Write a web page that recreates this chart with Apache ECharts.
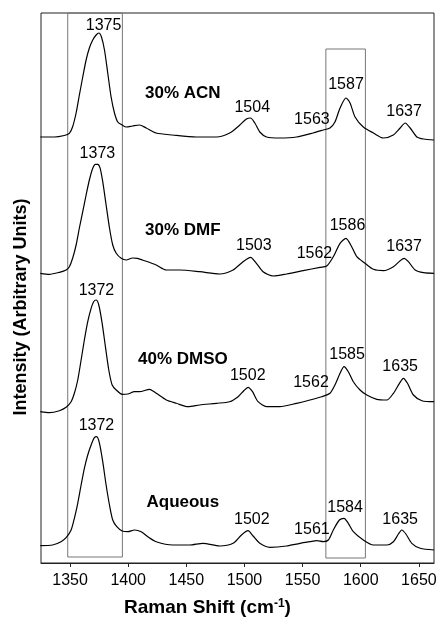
<!DOCTYPE html>
<html>
<head>
<meta charset="utf-8">
<script src="https://cdn.jsdelivr.net/npm/echarts@6/dist/echarts.min.js"></script>
<style>
  html, body { margin: 0; padding: 0; background: #fff; }
  #chart { width: 440px; height: 621px; }
</style>
</head>
<body>
<div id="chart"></div>
<script>
// x tick labels (Raman shift, cm-1)
var xTicks = [1350, 1400, 1450, 1500, 1550, 1600, 1650]

// spectra: [raman shift, intensity (arbitrary, stacked)]
var acn = [[1324.4, 426], [1336.5, 426], [1345, 427.5], [1349.4, 429.7], [1352.2, 436.3], [1355.2, 450], [1358, 468], [1360.9, 486], [1363.8, 503], [1366.6, 515], [1369.5, 523], [1372.4, 528], [1374.7, 530], [1377, 526], [1379.6, 513], [1382.4, 490], [1385.3, 466], [1388.2, 450], [1391, 441], [1394.8, 438], [1398.3, 436], [1403.7, 437], [1409.7, 438], [1415.5, 435], [1424, 430], [1438, 428], [1458.6, 426], [1475.9, 426], [1487.3, 430], [1496, 438], [1501.7, 444], [1505.2, 445], [1508.9, 440], [1513.2, 431], [1519, 426], [1530.4, 425], [1544.8, 426], [1559, 430], [1567.8, 433], [1573.5, 435], [1577.8, 441], [1582.2, 455], [1587.3, 465], [1590.8, 460], [1595.1, 446], [1602.2, 436], [1610.9, 430], [1619.5, 425], [1628, 428], [1633.9, 435], [1638.2, 440], [1642.5, 435], [1648.3, 426], [1654, 424], [1663, 423]]

var dmf = [[1324.4, 289.7], [1332.2, 288.7], [1340.8, 290.7], [1346.6, 293], [1349.4, 296.3], [1352.2, 304.7], [1355.2, 318], [1358, 335], [1360.9, 351.3], [1363.8, 368], [1366.6, 383], [1369.5, 394.7], [1371.8, 398.7], [1373.8, 398.7], [1375.9, 394.7], [1378.1, 381.3], [1381, 358], [1383.9, 335], [1386.7, 318], [1389.7, 309.7], [1394, 304.7], [1398.3, 303], [1403.7, 305], [1408, 304.7], [1412.3, 303], [1424.1, 298], [1432.8, 293], [1444.2, 293], [1461.5, 291.3], [1478.7, 289], [1490.2, 293], [1498.8, 301.3], [1505.2, 305.7], [1510.3, 299.7], [1516, 291.3], [1524.7, 287], [1536.2, 289], [1550.5, 292.3], [1564.9, 295.7], [1570.7, 297], [1576.4, 306.3], [1582.2, 319.7], [1587.3, 324.7], [1592.2, 316.3], [1596.6, 306.3], [1603.7, 299.7], [1610.9, 293.7], [1619.5, 292.3], [1628.1, 296.3], [1633.9, 302.3], [1637.3, 304.7], [1641, 301.3], [1646.8, 293], [1654, 290.3], [1663, 289.7]]

var dmso = [[1324.4, 151.3], [1332.2, 150.3], [1340.8, 152.3], [1346.6, 155.7], [1350.9, 161.3], [1353.7, 169.7], [1356.6, 183], [1359.5, 203], [1362.3, 223], [1365.2, 241.3], [1368.1, 254.7], [1370.3, 261.3], [1372.4, 263], [1374.7, 258], [1377.6, 239.7], [1380.4, 216.3], [1383.3, 193], [1386.2, 178], [1389.7, 173], [1394.8, 168.7], [1399.7, 169], [1405.4, 171.3], [1409.7, 171.3], [1418.4, 173.7], [1424.1, 169.7], [1432.8, 163], [1441.4, 159.7], [1451.4, 156.3], [1461.5, 158], [1475.9, 159.7], [1487.3, 161.3], [1494.5, 166.3], [1499.4, 172.3], [1503.1, 175.7], [1506.9, 171.3], [1511.7, 161.3], [1519, 156.3], [1530.4, 156.3], [1544.8, 159.7], [1556.3, 163], [1566.4, 166.3], [1573.5, 169.7], [1577.8, 178], [1582.2, 189.7], [1585.6, 196.3], [1589.3, 191.3], [1593.6, 181.3], [1599.4, 173], [1605.2, 168], [1613.8, 163.7], [1622.4, 163], [1628.1, 169.7], [1633.3, 179.7], [1636.7, 184.7], [1640.2, 179.7], [1645.3, 168], [1652.6, 162.3], [1663, 161.3]]

var aqueous = [[1324.4, 17.3], [1335, 18], [1342.2, 21.3], [1346.6, 25.3], [1350.9, 33], [1353.7, 44.7], [1356.6, 59.7], [1359.5, 78], [1362.3, 94.7], [1365.2, 108], [1368.1, 118], [1370.9, 125.3], [1372.9, 126.3], [1375.3, 119.7], [1378.1, 101.3], [1381, 78], [1383.9, 58], [1386.7, 43], [1390.2, 36.3], [1394.8, 32], [1399.7, 31.3], [1405.4, 33], [1411.2, 31.3], [1416.9, 26.3], [1424.1, 21.3], [1438.4, 18], [1452.8, 18], [1464.3, 19.7], [1478.7, 17], [1490.2, 19.7], [1497.4, 28], [1503.1, 32.3], [1507.4, 27], [1513.2, 19.7], [1521.8, 15.7], [1536.2, 17], [1547.7, 19.7], [1556.3, 21.3], [1562.1, 22.3], [1567.8, 21.3], [1572.1, 23], [1576.4, 33], [1581.6, 43], [1585.6, 44.7], [1589.3, 39.7], [1593.6, 31.3], [1602.2, 23], [1610.9, 18], [1622.4, 18], [1628.1, 21.3], [1632.4, 29], [1635.3, 33], [1638.8, 29], [1643.9, 19.7], [1651.1, 14.7], [1663, 13]]

// peak labels: [text, x, y] where the label sits
var peakLabels = [
  ['1375', 1378.8, 537], ['1504', 1506.7, 455.5], ['1563', 1558, 443], ['1587', 1587.3, 478], ['1637', 1637.3, 451],
  ['1373', 1373.5, 409.5], ['1503', 1508, 317], ['1562', 1560.2, 309], ['1586', 1588.6, 337], ['1637', 1637.3, 316],
  ['1372', 1372.7, 272.5], ['1502', 1502.8, 187], ['1562', 1557.2, 180], ['1585', 1588.2, 208], ['1635', 1633.9, 196],
  ['1372', 1372.7, 137], ['1502', 1506.3, 43], ['1561', 1558, 33], ['1584', 1586.5, 55], ['1635', 1633.9, 43]
]

// sample names and where they sit
var sampleNames = [['30% ACN', 1447, 470], ['30% DMF', 1447, 333], ['40% DMSO', 1447, 204], ['Aqueous', 1447, 61]]

// highlighted regions: [x0, x1, y0, y1]
var boxes = [[1348, 1395, 6, 550], [1570, 1604, 5, 514]]

var font = '"Liberation Sans", Arial, sans-serif'

function spectrum(data) {
  return {
    type: 'line',
    data: data,
    smooth: 0.25,
    symbol: 'none',
    lineStyle: { color: '#000', width: 1.2 },
    silent: true
  }
}

function textLayer(items, size, weight) {
  return {
    type: 'scatter',
    symbolSize: 0,
    silent: true,
    itemStyle: { opacity: 1 },
    data: items.map(function (p) { return { value: [p[1], p[2]], name: p[0] } }),
    label: { show: true, position: 'inside', formatter: '{b}', color: '#000', opacity: 1, fontSize: size, fontWeight: weight, fontFamily: font }
  }
}

var chart = echarts.init(document.getElementById('chart'))

var boxSeries = spectrum([])
boxSeries.markArea = {
  silent: true,
  itemStyle: { color: 'rgba(0,0,0,0)', borderColor: '#777', borderWidth: 1 },
  data: boxes.map(function (b) { return [{ coord: [b[0], b[2]] }, { coord: [b[1], b[3]] }] })
}

chart.setOption({
  animation: false,
  grid: { left: 41, right: 6, top: 13, bottom: 58, show: true, borderColor: '#222', borderWidth: 1 },
  xAxis: {
    type: 'value',
    min: 1325,
    max: 1663,
    axisLine: { show: true, onZero: false, lineStyle: { color: '#222' } },
    axisTick: { show: true, inside: false, length: 4, customValues: xTicks, lineStyle: { color: '#222' } },
    axisLabel: {
      customValues: xTicks,
      margin: 10,
      color: '#000',
      fontSize: 16,
      fontFamily: font,
      formatter: function (v) { return String(v) }
    },
    splitLine: { show: false }
  },
  yAxis: {
    type: 'value',
    min: 0,
    max: 550,
    axisLine: { show: false },
    axisTick: { show: false },
    axisLabel: { show: false },
    splitLine: { show: false }
  },
  series: [
    boxSeries,
    spectrum(acn),
    spectrum(dmf),
    spectrum(dmso),
    spectrum(aqueous),
    textLayer(peakLabels, 16, 'normal'),
    textLayer(sampleNames, 17, 'bold')
  ],
  graphic: [
    {
      type: 'text',
      left: 124,
      top: 598,
      style: {
        text: 'Raman Shift (cm{sup|-1})',
        fill: '#000',
        font: 'bold 19px ' + font,
        rich: { sup: { fontSize: 12, fontWeight: 'bold', fontFamily: font, verticalAlign: 'top', padding: [0, 0, 8, 0] } }
      }
    },
    {
      type: 'text',
      x: 21,
      y: 307,
      rotation: Math.PI / 2,
      style: {
        text: 'Intensity (Arbitrary Units)',
        fill: '#000',
        font: 'bold 18px ' + font,
        align: 'center',
        verticalAlign: 'middle'
      }
    }
  ]
})
</script>
</body>
</html>
